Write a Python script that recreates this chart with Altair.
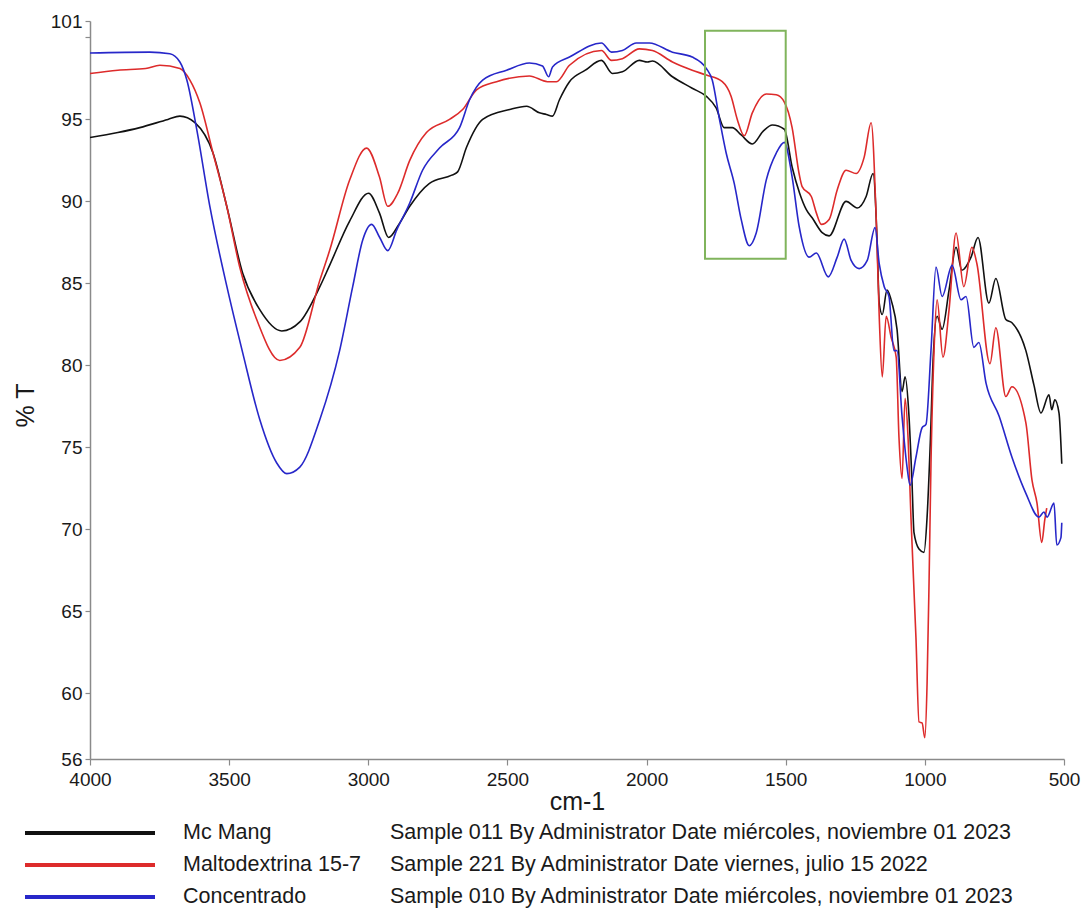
import altair as alt
import pandas as pd

# ---------------- data ----------------
series_names = ["Mc Mang", "Maltodextrina 15-7", "Concentrado"]
series_desc = [
    "Sample 011 By Administrator Date miércoles, noviembre 01 2023",
    "Sample 221 By Administrator Date viernes, julio 15 2022",
    "Sample 010 By Administrator Date miércoles, noviembre 01 2023",
]
series_colors = ["#111111", "#dd2b2b", "#2727c9"]

wn_black = [4000, 3900, 3821, 3720, 3677, 3623, 3558, 3508, 3451, 3390, 3311, 3246, 3174, 3139, 3067,
            2999, 2960, 2927, 2890, 2851, 2780, 2700, 2679, 2647, 2589, 2492, 2431, 2385, 2360, 2338,
            2313, 2277, 2220, 2162, 2123, 2087, 2026, 1997, 1979, 1907, 1836, 1785, 1750, 1721, 1692,
            1660, 1620, 1580, 1548, 1505, 1477, 1450, 1426, 1405, 1369, 1344, 1283, 1243, 1211, 1186,
            1172, 1164, 1153, 1136, 1118, 1100, 1082, 1071, 1057, 1046, 1039, 1021, 1003, 992, 980,
            970, 956, 938, 913, 888, 867, 834, 809, 770, 745, 709, 687, 637, 608, 583, 554, 544, 533,
            518, 508]
t_black = [93.9, 94.2, 94.5, 95.0, 95.2, 94.8, 92.95, 89.66, 85.6, 83.4, 82.1, 82.65, 84.8, 86.1, 88.8,
           90.5, 89.3, 87.8, 88.6, 89.7, 91.1, 91.6, 91.8, 93.3, 95.0, 95.6, 95.8, 95.4, 95.3, 95.2,
           96.2, 97.3, 98.0, 98.6, 97.8, 97.9, 98.6, 98.5, 98.56, 97.6, 96.9, 96.4, 95.7, 94.5, 94.5,
           94.05, 93.5, 94.3, 94.66, 94.4, 92.1, 90.5, 89.5, 89.0, 88.1, 87.9, 90.0, 89.6, 90.3, 91.7,
           87.8, 83.8, 83.1, 84.6, 83.8, 82.2, 78.4, 79.3, 76.9, 72.8, 69.8, 68.8, 68.6, 70.75, 75.5,
           80.5, 83.0, 82.2, 84.6, 87.2, 85.8, 86.6, 87.8, 83.8, 85.3, 82.8, 82.6, 80.9, 78.8, 77.1,
           78.2, 77.3, 77.9, 77.1, 74.0]

wn_red = [4000, 3900, 3800, 3749, 3677, 3641, 3605, 3558, 3508, 3462, 3401, 3318, 3246, 3174, 3139,
          3067, 3006, 2960, 2930, 2894, 2851, 2791, 2708, 2661, 2611, 2539, 2421, 2356, 2324, 2277,
          2162, 2126, 2087, 2026, 1979, 1907, 1836, 1785, 1728, 1696, 1674, 1649, 1620, 1570, 1534,
          1505, 1477, 1452, 1441, 1408, 1390, 1372, 1344, 1315, 1283, 1247, 1218, 1193, 1175, 1164,
          1153, 1139, 1121, 1103, 1093, 1082, 1071, 1060, 1050, 1032, 1021, 1010, 1000, 992, 985,
          978, 967, 956, 935, 913, 888, 860, 831, 813, 766, 745, 709, 687, 637, 615, 597, 580, 569,
          562]
t_red = [97.8, 98.0, 98.1, 98.3, 98.1, 97.4, 96.0, 92.95, 89.66, 86.0, 82.8, 80.3, 81.1, 85.2, 87.0,
         91.3, 93.25, 91.5, 89.7, 90.5, 92.5, 94.2, 95.0, 95.6, 96.8, 97.3, 97.65, 97.3, 97.3, 98.3,
         99.2, 98.6, 98.7, 99.3, 99.2, 98.5, 98.0, 97.7, 97.3, 96.4, 95.0, 94.0, 95.4, 96.55, 96.5,
         96.06, 94.5, 91.7, 90.9, 90.3, 89.3, 88.6, 88.9, 90.7, 91.9, 91.7, 92.7, 94.8, 89.05, 83.0,
         79.3, 83.0, 81.7, 80.5, 75.6, 73.1, 78.0, 75.45, 70.75, 63.4, 58.26, 58.2, 57.3, 60.6, 66.7,
         74.0, 80.9, 84.0, 80.5, 83.4, 88.07, 84.8, 87.2, 86.2, 80.1, 82.3, 78.1, 78.7, 76.5, 73.0,
         71.6, 69.2, 70.6, 71.3]

wn_blue = [4000, 3785, 3713, 3677, 3652, 3616, 3569, 3508, 3451, 3390, 3329, 3293, 3246, 3174, 3103,
           3056, 3020, 2988, 2959, 2930, 2898, 2851, 2805, 2744, 2672, 2636, 2589, 2503, 2421, 2374,
           2352, 2338, 2277, 2162, 2126, 2087, 2037, 1990, 1907, 1836, 1785, 1764, 1739, 1714, 1685,
           1660, 1631, 1606, 1570, 1534, 1505, 1477, 1452, 1416, 1390, 1347, 1315, 1290, 1265, 1236,
           1207, 1179, 1164, 1146, 1129, 1111, 1100, 1082, 1064, 1053, 1032, 1010, 996, 978, 960, 938,
           902, 870, 852, 824, 806, 780, 733, 687, 637, 590, 572, 561, 536, 526, 511, 508]
t_blue = [99.05, 99.1, 99.0, 98.5, 97.4, 94.35, 89.66, 84.8, 80.75, 76.7, 74.05, 73.4, 73.8, 76.7, 80.9,
          84.8, 87.65, 88.6, 87.8, 87.0, 88.25, 89.9, 91.9, 93.25, 94.5, 96.2, 97.4, 98.0, 98.44, 98.26,
          97.6, 98.2, 98.8, 99.66, 99.1, 99.2, 99.66, 99.66, 99.1, 98.8, 98.1, 97.4, 95.1, 92.95, 91.1,
          88.9, 87.3, 88.07, 91.3, 92.95, 93.6, 91.5, 88.5, 86.6, 86.85, 85.4, 86.6, 87.7, 86.4, 85.9,
          86.4, 88.4, 86.2, 84.8, 84.2, 80.9, 80.9, 76.9, 73.8, 72.7, 74.4, 76.2, 76.4, 80.9, 86.0, 84.2,
          86.1, 84.0, 84.2, 81.1, 81.4, 78.9, 76.9, 74.4, 72.2, 70.75, 71.06, 70.75, 71.6, 69.05, 69.5,
          70.4]

# highlighted region (green box)
box_wn = [1790, 1500]
box_t = [86.5, 100.4]

x_ticks = [4000, 3500, 3000, 2500, 2000, 1500, 1000, 500]
y_ticks = [56, 60, 65, 70, 75, 80, 85, 90, 95, 100, 101]

# ---------------- build ----------------
FONT = "Liberation Sans"
W, H = 974, 738

frames = []
for name, wn, t in zip(series_names, [wn_black, wn_red, wn_blue], [t_black, t_red, t_blue]):
    frames.append(pd.DataFrame({"wn": wn, "T": t, "sample": name}))
df = pd.concat(frames, ignore_index=True)

x_scale = alt.Scale(domain=[4000, 500], nice=False, zero=False)
y_scale = alt.Scale(domain=[56, 101], nice=False, zero=False)

lines = alt.Chart(df).mark_line(strokeWidth=1.6, interpolate="monotone", clip=True).encode(
    x=alt.X("wn:Q", scale=x_scale,
            axis=alt.Axis(values=x_ticks, title="cm-1", format="d", labelFlush=False,
                          labelOverlap=False, tickSize=6, labelPadding=5, titleFontSize=25,
                          titleFontWeight="normal", titleX=487, titleY=42,
                          titleBaseline="middle")),
    y=alt.Y("T:Q", scale=y_scale,
            axis=alt.Axis(values=y_ticks, title="% T", labelExpr="datum.value == 100 ? '' : datum.label",
                          tickSize=5, labelPadding=3, titleFontSize=25, titleFontWeight="normal",
                          titleAngle=-90, titleX=-65, titleY=384, titleAlign="center",
                          titleBaseline="middle")),
    color=alt.Color("sample:N", scale=alt.Scale(domain=series_names, range=series_colors), legend=None),
    detail="sample:N",
)

box_df = pd.DataFrame({"x1": [box_wn[0]], "x2": [box_wn[1]], "y1": [box_t[0]], "y2": [box_t[1]]})
box = alt.Chart(box_df).mark_rect(fill=None, fillOpacity=0, stroke="#80b45c", strokeWidth=2).encode(
    x=alt.X("x1:Q", scale=x_scale), x2="x2:Q",
    y=alt.Y("y1:Q", scale=y_scale), y2="y2:Q",
)

layers = [lines, box]
row_y = [812, 844, 876]
for name, desc, col, ry in zip(series_names, series_desc, series_colors, row_y):
    ldf = pd.DataFrame({"name": [name], "desc": [desc]})
    base = alt.Chart(ldf)
    layers.append(base.mark_rule(color=col, strokeWidth=4).encode(
        x=alt.value(-65), x2=alt.value(65), y=alt.value(ry)))
    layers.append(base.mark_text(align="left", baseline="middle", font=FONT, fontSize=21.5,
                                 color="#1a1a1a").encode(
        x=alt.value(93), y=alt.value(ry), text="name:N"))
    layers.append(base.mark_text(align="left", baseline="middle", font=FONT, fontSize=21.5,
                                 color="#1a1a1a").encode(
        x=alt.value(300), y=alt.value(ry), text="desc:N"))

chart = alt.layer(*layers).properties(
    width=W, height=H,
    autosize=alt.AutoSizeParams(type="none"),
    padding={"left": 90, "top": 21, "right": 17, "bottom": 153},
    background="white",
).configure_view(stroke=None).configure_axis(
    grid=False, domainColor="#8a8a8a", tickColor="#8a8a8a", domainWidth=1.5, tickWidth=1.2,
    labelFont=FONT, labelFontSize=19, labelColor="#1a1a1a", titleFont=FONT, titleColor="#1a1a1a",
)

chart.save("out.html", embed_options={"renderer": "svg", "actions": False})
